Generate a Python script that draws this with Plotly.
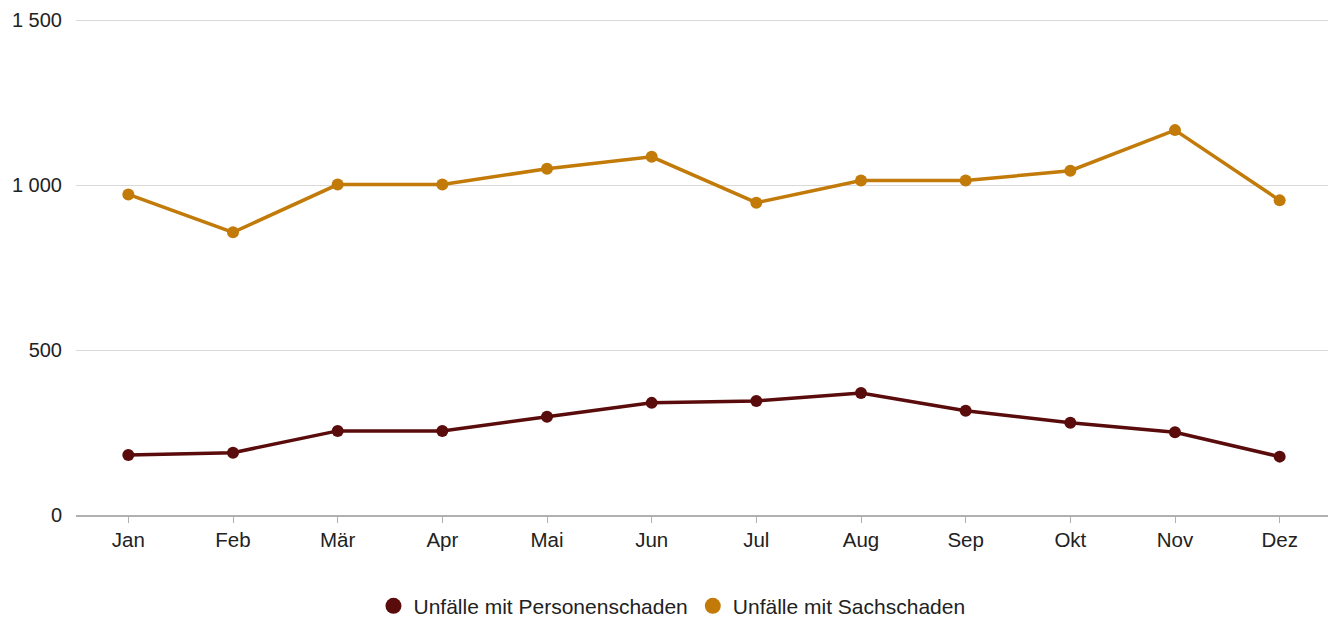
import plotly.graph_objects as go

months = ["Jan", "Feb", "Mär", "Apr", "Mai", "Jun", "Jul", "Aug", "Sep", "Okt", "Nov", "Dez"]
personen = [182, 189, 255, 255, 298, 340, 346, 370, 316, 280, 251, 177]
sach = [972, 857, 1002, 1002, 1050, 1086, 947, 1014, 1014, 1044, 1167, 954]

name_p = "Unfälle mit Personenschaden"
name_s = "Unfälle mit Sachschaden"
col_p = "#5a0b0b"
col_s = "#c27a08"

fig = go.Figure()
fig.add_trace(go.Scatter(x=months, y=personen, mode="lines+markers", name=name_p,
                         line=dict(color=col_p, width=3.5), marker=dict(size=12, color=col_p),
                         showlegend=False))
fig.add_trace(go.Scatter(x=months, y=sach, mode="lines+markers", name=name_s,
                         line=dict(color=col_s, width=3.5), marker=dict(size=12, color=col_s),
                         showlegend=False))
# legend-only entries (circle symbols)
fig.add_trace(go.Scatter(x=[None], y=[None], mode="markers", name=name_p,
                         marker=dict(size=16, color=col_p)))
fig.add_trace(go.Scatter(x=[None], y=[None], mode="markers", name=name_s,
                         marker=dict(size=16, color=col_s)))

fig.update_layout(
    width=1328, height=630,
    margin=dict(l=68, r=4, t=9, b=123),
    paper_bgcolor="white", plot_bgcolor="white",
    font=dict(family="Liberation Sans, Arial, sans-serif", size=20.5, color="#222222"),
    separators=", ",
    showlegend=True,
    legend=dict(orientation="h", x=0.4745, xanchor="center",
                y=-0.183, yanchor="middle",
                font=dict(size=21, color="#222222"), itemwidth=30, tracegroupgap=0),
)
fig.update_xaxes(type="category", range=[-0.5, 11.5], showgrid=False,
                 showline=True, linecolor="#b0b0b0", linewidth=1.5,
                 ticks="outside", ticklen=6, tickcolor="#b0b0b0", tickwidth=1,
                 tickangle=0,
                 tickfont=dict(size=20.5, color="#222222"), fixedrange=True)
fig.update_yaxes(range=[0, 1510], tickvals=[0, 500, 1000, 1500],
                 tickformat=",d", separatethousands=True,
                 showgrid=True, gridcolor="#d9d9d9", gridwidth=1.3,
                 zeroline=False, showline=False, ticks="", ticklabelstandoff=13,
                 ticklabeloverflow="allow", automargin=False,
                 tickfont=dict(size=20, color="#222222"))

fig.write_html("out.html")
